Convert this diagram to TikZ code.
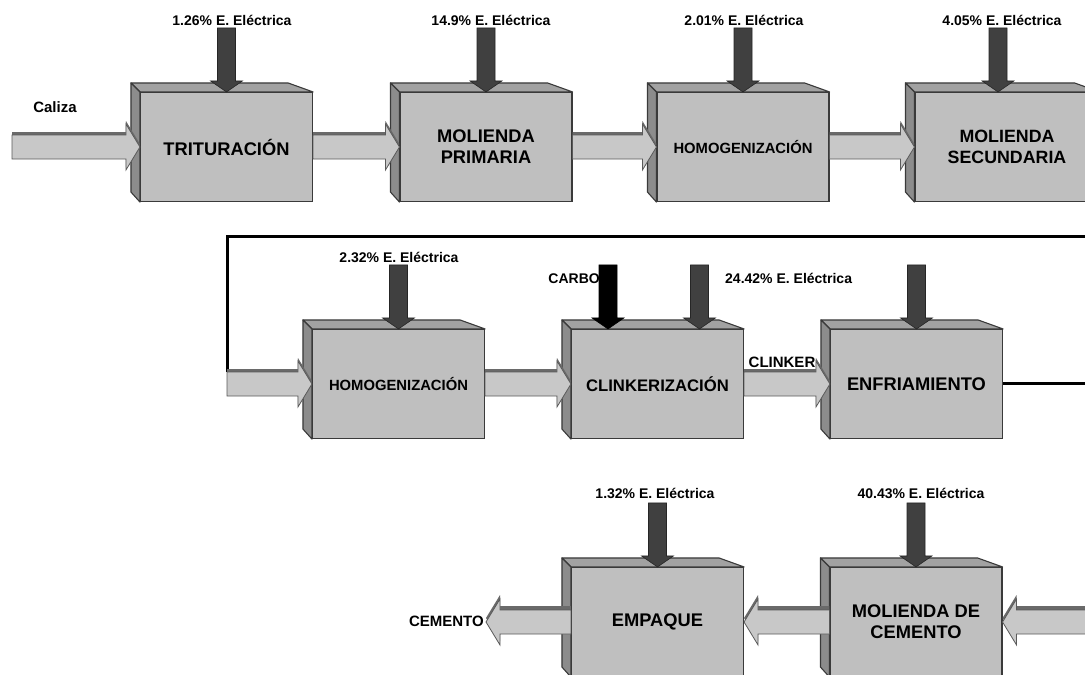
\documentclass[tikz,border=0pt]{standalone}
\usepackage{fontspec}
\setmainfont{Liberation Sans}
\usetikzlibrary{calc}

\definecolor{frontcol}{HTML}{BFBFBF}
\definecolor{topcol}{HTML}{A2A2A2}
\definecolor{sidecol}{HTML}{8C8C8C}
\definecolor{edgecol}{HTML}{3A3A3A}
\definecolor{flowcol}{HTML}{C8C8C8}
\definecolor{flowedge}{HTML}{5A5A5A}
\definecolor{flowdark}{HTML}{6A6A6A}
\definecolor{eleccol}{HTML}{404040}

\newcommand\bxfont{\fontsize{18.3}{21}\selectfont\bfseries}
\newcommand\bxsmall{\fontsize{14.8}{17}\selectfont\bfseries}
\newcommand\bxmid{\fontsize{16.7}{19}\selectfont\bfseries}
\newcommand\bxsec{\fontsize{17.8}{21}\selectfont\bfseries}
\newcommand\lblfont{\fontsize{14}{15}\selectfont\bfseries}
\newcommand\strfont{\fontsize{15}{17}\selectfont\bfseries}

% top and left faces of a process block
\newcommand\boxfaces[1]{%
  \path[topface] (#1.north west) -- ++(-9,-9) -- ($(#1.north east)+(-25,-9)$) -- (#1.north east) -- cycle;
  \path[sideface] (#1.north west) -- ++(-9,-9) -- ($(#1.south west)+(-9,-10)$) -- (#1.south west) -- cycle;}

% horizontal block arrow: #1 tail, #2 tip, #3 offset, #4 style, #5 head length (signed)
\newcommand\arrowshape[5]{%
  \path[#4] ($(#1)+(0,-12)+#3$) -- ($(#2)+(#5,-12)+#3$) -- ($(#2)+(#5,-23)+#3$) -- ($(#2)+#3$)
    -- ($(#2)+(#5,23)+#3$) -- ($(#2)+(#5,12)+#3$) -- ($(#1)+(0,12)+#3$) -- cycle;}
\newcommand\flowright[2]{%
  \coordinate (fa-a) at (#1);
  \coordinate (fa-b) at (#2 |- fa-a);
  \arrowshape{fa-a}{fa-b}{(0,-3)}{flowdepth}{-14}
  \arrowshape{fa-a}{fa-b}{(0,0)}{flowbody}{-14}}
\newcommand\flowleft[2]{%
  \coordinate (fa-a) at (#1);
  \coordinate (fa-b) at (#2 |- fa-a);
  \arrowshape{fa-a}{fa-b}{(0,-4)}{flowdepth}{14}
  \arrowshape{fa-a}{fa-b}{(0,0)}{flowbody}{14}}

% vertical supply arrow: #1 top, #2 tip, #3 style
\newcommand\supply[3]{%
  \path[#3] ($(#1)+(-9,0)$) -- ($(#1)+(9,0)$) -- ($(#2)+(9,-11)$) -- ($(#2)+(16,-11)$) -- (#2)
    -- ($(#2)+(-16,-11)$) -- ($(#2)+(-9,-11)$) -- cycle;}

\begin{document}
\begin{tikzpicture}[x=1pt,y=-1pt,
  procbox/.style={draw=edgecol, fill=frontcol, line width=1.1pt, minimum width=172pt,
    minimum height=109pt, inner sep=0pt, align=center, font=\bxfont, text=black},
  topface/.style={draw=edgecol, fill=topcol, line width=1.1pt, line join=round},
  sideface/.style={draw=edgecol, fill=sidecol, line width=1.1pt, line join=round},
  flowbody/.style={draw=flowedge, fill=flowcol, line width=0.8pt, line join=miter},
  flowdepth/.style={fill=flowdark},
  elecarrow/.style={draw=black!85, fill=eleccol, line width=0.6pt},
  fuelarrow/.style={draw=black, fill=black, line width=0.6pt},
  energylabel/.style={font=\lblfont, inner sep=1pt, text=black},
  streamlabel/.style={font=\strfont, inner sep=2pt, text=black},
  loopline/.style={line width=3pt, draw=black, line join=miter}]

\useasboundingbox (0,0) rectangle (1085,675);
\clip (0,0) rectangle (1085,675);
\fill[white] (0,0) rectangle (1085,675);

% process blocks
\node[procbox] (b1) at (226.5,147) {TRITURACIÓN};
\node[procbox] (b2) at (486,147) {MOLIENDA\\PRIMARIA};
\node[procbox, font=\bxsmall] (b3) at (743,147) {HOMOGENIZACIÓN};
\node[procbox, font=\bxsec, minimum width=184pt] (b4) at (1007,147) {MOLIENDA\\SECUNDARIA};
\node[procbox, font=\bxsmall] (b5) at (398.5,384) {HOMOGENIZACIÓN};
\node[procbox, font=\bxmid] (b6) at (657.5,384) {CLINKERIZACIÓN};
\node[procbox] (b7) at (916.5,384) {ENFRIAMIENTO};
\node[procbox] (b8) at (657.5,622) {EMPAQUE};
\node[procbox] (b9) at (916,622) {MOLIENDA DE\\CEMENTO};
\foreach \b in {b1,b2,b3,b4,b5,b6,b7,b8,b9} {\boxfaces{\b}}

% stream labels and free ends
\node[streamlabel] (cal) at (55,107) {Caliza};
\node[streamlabel] (clk) at (782,362) {CLINKER};
\node[streamlabel, anchor=east] (cem) at (486,621) {CEMENTO};
\coordinate (src) at (12,147);
\coordinate (in2) at (227,384);
\coordinate (outR1) at (1090,236);
\coordinate (outR2) at (1090,383);
\coordinate (in3) at (1090,622);

% return lines between the rows
\draw[loopline] (outR1) -- (outR1 -| in2) -- ($(in2)+(0,-12)$);
\draw[loopline] (b7.east |- outR2) -- (outR2);

% material flow
\flowright{src}{b1.west}
\flowright{b1.east}{b2.west}
\flowright{b2.east}{b3.west}
\flowright{b3.east}{b4.west}
\flowright{in2}{b5.west}
\flowright{b5.east}{b6.west}
\flowright{b6.east}{b7.west}
\flowleft{in3}{b9.east}
\flowleft{b9.west}{b8.east}
\flowleft{b8.west}{cem.east}

% energy labels
\node[energylabel] (l1) at (232,20) {1.26\% E. Eléctrica};
\node[energylabel] (l2) at (491,20) {14.9\% E. Eléctrica};
\node[energylabel] (l3) at (744,20) {2.01\% E. Eléctrica};
\node[energylabel] (l4) at (1002,20) {4.05\% E. Eléctrica};
\node[energylabel] (l5) at (399,257) {2.32\% E. Eléctrica};
\node[energylabel, anchor=west] (l6) at (724,278) {24.42\% E. Eléctrica};
\node[energylabel, anchor=east] (lc) at (601,279) {CARBO};
\node[energylabel] (l8) at (655,493) {1.32\% E. Eléctrica};
\node[energylabel] (l9) at (921,493) {40.43\% E. Eléctrica};

% supply arrows
\coordinate (t4) at ($(b4.north)+(-9,0)$);
\coordinate (t6a) at ($(b6.north)+(-49.5,0)$);
\coordinate (t6b) at ($(b6.north)+(42,0)$);
\foreach \b in {b1,b2,b3,b5,b7,b8,b9} {
  \coordinate (\b-e) at ($(\b.north)+(0,-64)$);
  \supply{\b-e}{\b.north}{elecarrow}
}
\coordinate (t4-e) at ($(t4)+(0,-64)$);
\supply{t4-e}{t4}{elecarrow}
\coordinate (t6a-e) at ($(t6a)+(0,-64)$);
\supply{t6a-e}{t6a}{fuelarrow}
\coordinate (t6b-e) at ($(t6b)+(0,-64)$);
\supply{t6b-e}{t6b}{elecarrow}

\end{tikzpicture}
\end{document}
